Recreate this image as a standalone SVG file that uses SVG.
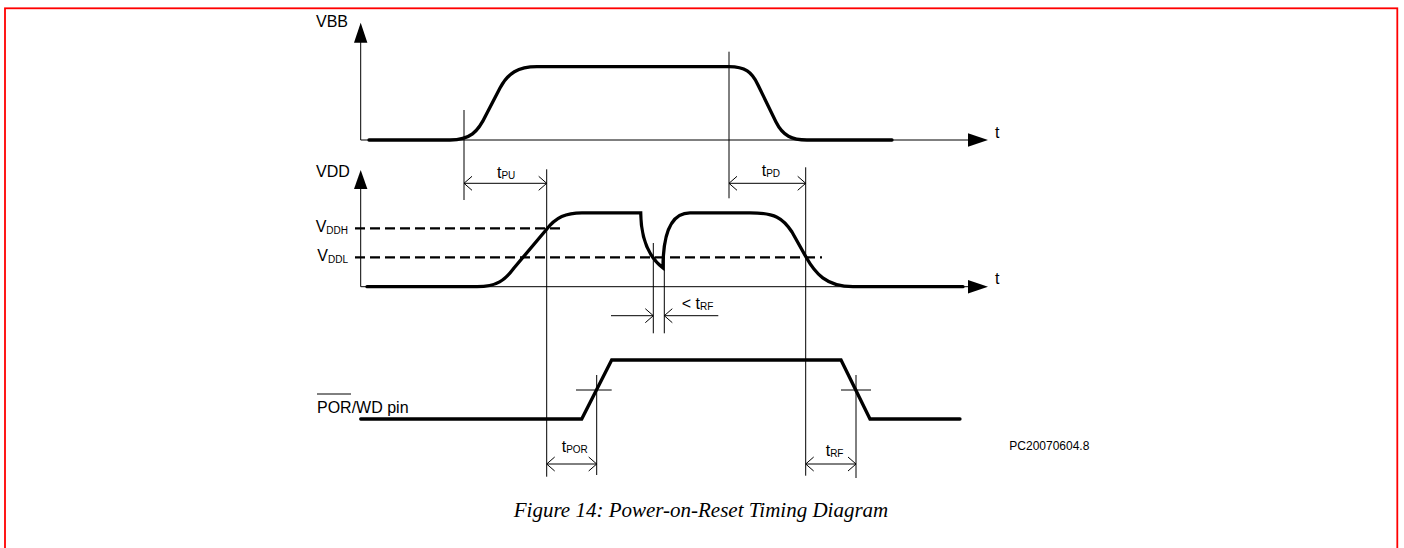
<svg xmlns="http://www.w3.org/2000/svg" width="1404" height="548" viewBox="0 0 1404 548">
<style>
.lbl{font-family:"Liberation Sans",Arial,sans-serif;font-size:16px;fill:#000}
.sub{font-size:10px}
.small{font-family:"Liberation Sans",Arial,sans-serif;font-size:12px;fill:#000}
.cap{font-family:"Liberation Serif","Times New Roman",serif;font-style:italic;font-size:21px;fill:#000}
.thin{stroke:#000;stroke-width:1;fill:none}
.sig{stroke:#000;stroke-width:3.3;fill:none;stroke-linecap:round;stroke-linejoin:miter}
.dash{stroke:#000;stroke-width:2.2;fill:none;stroke-dasharray:10 5}
.dim{stroke:#000;stroke-width:1;fill:none;marker-end:url(#open)}
.dim2{stroke:#000;stroke-width:1;fill:none;marker-start:url(#open);marker-end:url(#open)}
.ah{fill:#000;stroke:none}
</style>
<defs>
<marker id="open" viewBox="0 -8 10 16" refX="10" refY="0" markerWidth="10" markerHeight="16" markerUnits="userSpaceOnUse" orient="auto-start-reverse">
<path d="M2,-7 L10,0 L2,7" fill="none" stroke="#000" stroke-width="1"/>
</marker>
</defs>
<rect x="5" y="8.3" width="1392.3" height="620" fill="none" stroke="#ff0000" stroke-width="1.8"/>

<g id="vbb-axes">
<line class="thin" x1="360.7" y1="42" x2="360.7" y2="140"/>
<line class="thin" x1="360.7" y1="140" x2="969" y2="140"/>
<polygon class="ah" points="360.7,22.7 354,42.7 367.4,42.7"/>
<polygon class="ah" points="988,140 968,133.3 968,146.7"/>
<text class="lbl" x="316" y="27">VBB</text>
<text class="lbl" x="995" y="138">t</text>
</g>
<g id="vbb-signal">
<path class="sig" d="M369,140 L450,140 C470,140 478,132 486,115 L500,88 C508,73 518,66.7 537,66.7 L729,66.7 C745,66.7 752,72 758,85 L776,122 C783,136 792,140 807,140 L892,140"/>
</g>

<g id="vdd-axes">
<line class="thin" x1="360.7" y1="189" x2="360.7" y2="286.7"/>
<line class="thin" x1="360.7" y1="286.7" x2="969" y2="286.7"/>
<polygon class="ah" points="360.7,170 354,189 367.4,189"/>
<polygon class="ah" points="988,286.7 968,280 968,293.4"/>
<text class="lbl" x="316" y="176.7">VDD</text>
<text class="lbl" x="995" y="284">t</text>
</g>
<g id="thresholds">
<line class="dash" x1="355" y1="228.3" x2="562" y2="228.3"/>
<line class="dash" x1="355" y1="257.3" x2="822" y2="257.3"/>
<text class="lbl" x="348" y="232" text-anchor="end">V<tspan class="sub" dy="2">DDH</tspan></text>
<text class="lbl" x="348" y="261" text-anchor="end">V<tspan class="sub" dy="2">DDL</tspan></text>
</g>
<g id="vdd-signal">
<path class="sig" d="M367,286.7 L477,286.7 C497,286.7 505,280 514,268 L546,230 C556,217 566,212.8 582,212.8 L640.7,212.8 C641,240 650,258 663,268 C663,240 668,212.8 690,212.8 L750,212.8 C775,212.8 783,218 792,232 L806,257 C815,273 826,286.7 853,286.7 L963,286.7"/>
</g>

<g id="por-signal">
<path class="sig" d="M360.7,419 L581.7,419 L611.7,360 L841,360 L870,419 L960,419"/>
<text class="lbl" x="317" y="412.7">POR/WD pin</text>
<line class="thin" x1="317" y1="394" x2="351" y2="394"/>
<line class="thin" x1="576" y1="390" x2="611.7" y2="390"/>
<line class="thin" x1="841" y1="390" x2="871" y2="390"/>
</g>

<g id="connectors">
<line class="thin" x1="464" y1="110" x2="464" y2="200"/>
<line class="thin" x1="546.7" y1="169.3" x2="546.7" y2="476.7"/>
<line class="thin" x1="729" y1="51.7" x2="729" y2="198.3"/>
<line class="thin" x1="805.7" y1="167.3" x2="805.7" y2="475.7"/>
<line class="thin" x1="653.3" y1="243" x2="653.3" y2="333.3"/>
<line class="thin" x1="664.3" y1="243" x2="664.3" y2="333.3"/>
<line class="thin" x1="596.7" y1="375" x2="596.7" y2="475"/>
<line class="thin" x1="856" y1="375" x2="856" y2="478"/>
<line class="dim2" x1="464" y1="183.3" x2="546.7" y2="183.3"/>
<line class="dim2" x1="729" y1="183.3" x2="805.7" y2="183.3"/>
<line class="dim2" x1="546.7" y1="464" x2="596.7" y2="464"/>
<line class="dim2" x1="805.7" y1="464" x2="856" y2="464"/>
<line class="dim" x1="611" y1="315.7" x2="653.3" y2="315.7"/>
<line class="dim" x1="718.3" y1="315.7" x2="664.3" y2="315.7"/>
</g>

<g id="labels">
<text class="lbl" x="497" y="178">t<tspan class="sub" dy="1">PU</tspan></text>
<text class="lbl" x="761.7" y="176">t<tspan class="sub" dy="1">PD</tspan></text>
<text class="lbl" x="681.7" y="309.3">&lt; t<tspan class="sub" dy="1">RF</tspan></text>
<text class="lbl" x="561.7" y="451.7">t<tspan class="sub" dy="1">POR</tspan></text>
<text class="lbl" x="825.7" y="456">t<tspan class="sub" dy="1">RF</tspan></text>
<text class="small" x="1009.3" y="450">PC20070604.8</text>
<text class="cap" x="701" y="517" text-anchor="middle">Figure 14: Power-on-Reset Timing Diagram</text>
</g>
</svg>
